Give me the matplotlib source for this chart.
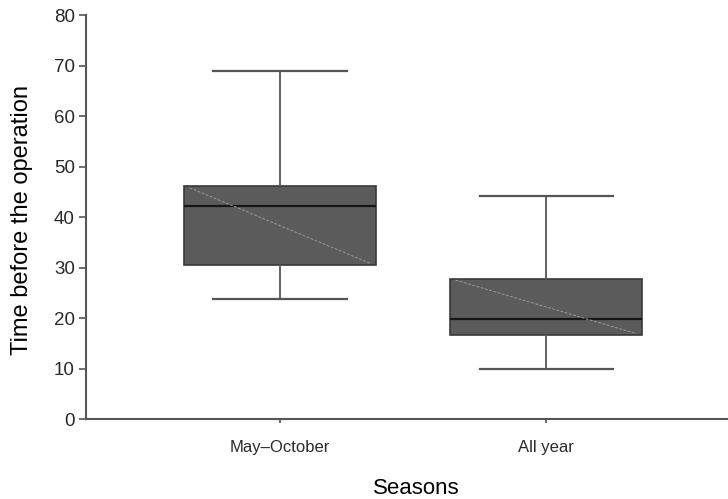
"""
Box plot: time before the operation by season
"""

import matplotlib
matplotlib.use("Agg")
import matplotlib.pyplot as plt

# ------------------------------------------------- Data -------------------------------------------------

seasons = ["May\u2013October", "All year"]
whisker_low = [23.8, 9.9]
q1 = [30.5, 16.6]
median = [42.1, 19.9]
q3 = [46.1, 27.8]
whisker_high = [68.9, 44.1]

y_ticks = [0, 10, 20, 30, 40, 50, 60, 70, 80]

# ------------------------------------------------- Styling -------------------------------------------------

plt.rcParams.update({
    "font.family": ["Liberation Sans", "DejaVu Sans"],
    "text.color": "#2a2a2a",
    "xtick.color": "#555555",
    "ytick.color": "#555555",
    "xtick.labelcolor": "#2a2a2a",
    "ytick.labelcolor": "#2a2a2a",
})

BOX_FILL = "#5b5b5b"
BOX_EDGE = "#3a3a3a"
LINE_GRAY = "#555555"

fig = plt.figure(figsize=(7.28, 4.99), dpi=100)
ax = fig.add_axes([0.1181, 0.1603, 0.8819, 0.8096])

positions = list(range(1, len(seasons) + 1))

stats = []
for i, name in enumerate(seasons):
    stats.append({
        "label": name,
        "whislo": whisker_low[i],
        "q1": q1[i],
        "med": median[i],
        "q3": q3[i],
        "whishi": whisker_high[i],
        "fliers": [],
    })

box_width = 0.72

ax.bxp(
    stats,
    positions=positions,
    widths=box_width,
    capwidths=0.50,
    patch_artist=True,
    showfliers=False,
    boxprops={"facecolor": BOX_FILL, "edgecolor": BOX_EDGE, "linewidth": 1.2},
    medianprops={"color": "#161616", "linewidth": 1.6},
    whiskerprops={"color": LINE_GRAY, "linewidth": 1.3},
    capprops={"color": LINE_GRAY, "linewidth": 1.6},
)

# faint diagonal across each box (scan artefact in the source figure)
for i, pos in enumerate(positions):
    ax.plot(
        [pos - box_width / 2 + 0.02, pos + box_width / 2 - 0.02],
        [q3[i] - 0.3, q1[i] + 0.3],
        color="#9a9a9a",
        linewidth=0.7,
        linestyle=(0, (3, 1.5)),
        zorder=5,
    )

ax.set_xlim(0.2707, 2.684)
ax.set_ylim(0, 80)

ax.set_yticks(y_ticks)
ax.set_xticks(positions)
ax.set_xticklabels(seasons)

ax.tick_params(axis="y", direction="out", length=5, width=1.2, labelsize=13.5, pad=3)
ax.tick_params(axis="x", direction="out", length=3, width=1.2, labelsize=12, pad=12)

for side in ["top", "right"]:
    ax.spines[side].set_visible(False)
for side in ["left", "bottom"]:
    ax.spines[side].set_color(LINE_GRAY)
    ax.spines[side].set_linewidth(1.5)

ax.set_ylabel("Time before the operation", fontsize=17)
ax.yaxis.set_label_coords(-0.0826, 0.493)

ax.set_xlabel("Seasons", fontsize=16)
ax.xaxis.set_label_coords(0.514, -0.147)

fig.savefig("out.png", dpi=100)
plt.close(fig)
